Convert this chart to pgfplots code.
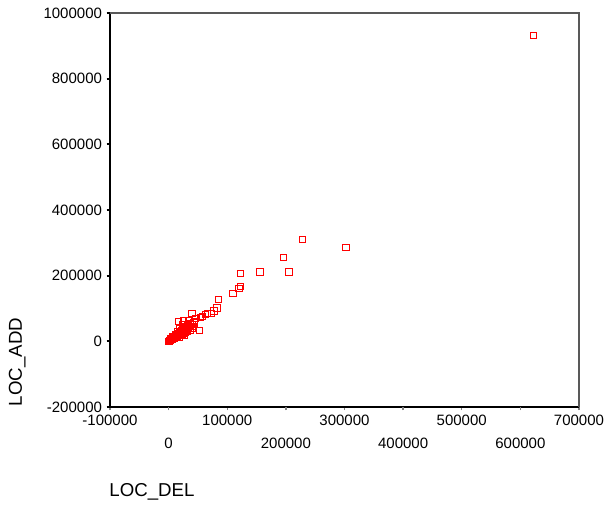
\documentclass[border=0pt]{standalone}
\usepackage{fontspec}
\setmainfont{Liberation Sans}
\usepackage{pgfplots}
\pgfplotsset{compat=1.18}
\begin{document}
\begin{tikzpicture}
\begin{axis}[
  at={(82.5pt,72.75pt)}, anchor=south west,
  scale only axis, width=351.75pt, height=295.5pt,
  xmin=-100000, xmax=700000, ymin=-200000, ymax=1000000,
  axis x line*=bottom, axis y line*=left,
  axis line style={black, line width=1.5pt, -},
  xtick={-100000,100000,300000,500000,700000},
  extra x ticks={0,200000,400000,600000},
  extra x tick style={tick label style={yshift=-17.25pt}},
  ytick={-200000,0,200000,400000,600000,800000,1000000},
  scaled ticks=false,
  tick align=outside,
  major tick length=2.5pt,
  x tick style={gray, line width=1pt},
  y tick style={black, line width=1.5pt},
  tick label style={font=\fontsize{11.25}{13}\selectfont,
    /pgf/number format/fixed, /pgf/number format/1000 sep={},
    /pgf/number format/assume math mode=true},
  xlabel={LOC\_DEL}, ylabel={LOC\_ADD},
  label style={font=\fontsize{14}{16}\selectfont},
  xlabel style={at={(axis description cs:0.0896,-0.216)}, anchor=center},
  ylabel style={at={(axis description cs:-0.198,0.114)}, anchor=center},
  clip=false,
]
\addplot[only marks, mark=square, mark size=2.3pt, red, mark options={line width=0.75pt}] coordinates {
(623000,931500)
(228700,311400) (302600,287000) (196200,256600)
(122900,207000) (155800,211000) (205300,211000)
(122900,167500) (120000,160400) (109700,147000)
(84800,126900) (82400,101400) (77300,92200) (73400,84300)
(66000,84300) (57500,76100) (54600,72100) (63100,81300)
(39800,85200) (53400,33500) (16500,60900) (26100,63900)
(37500,53900) (40400,38700) (27800,18300) (34600,63900)
(43200,55700) (29000,43500) (46100,69100) (37500,38700)
(0,0) (500,800) (1000,1500) (1500,2500) (2000,1000) (2500,3500)
(3000,4000) (3500,2500) (4000,6000) (5000,5000) (5000,8000)
(6000,7000) (6500,10000) (7000,5000) (8000,11000) (8000,8000)
(9000,13000) (10000,10000) (10000,15000) (11000,13000)
(12000,18000) (12000,11000) (13000,16000) (14000,21000)
(15000,14000) (15000,19000) (16000,24000) (17000,17000)
(18000,26000) (18000,21000) (19000,13000) (20000,29000)
(20000,22000) (21000,18000) (22000,33000) (23000,26000)
(24000,20000) (25000,36000) (25000,30000) (26000,23000)
(27000,40000) (28000,33000) (29000,27000) (30000,45000)
(31000,36000) (32000,30000) (33000,48000) (34000,40000)
(36000,44000) (38000,34000) (40000,50000) (42000,46000)
(44000,60000) (23000,52000) (19000,40000) (3000,9000) (7000,14000)
(11000,22000) (15000,30000) (24000,42000) (28000,50000)
};
\draw[gray!70!black, line width=1pt] (rel axis cs:0,1) -- (rel axis cs:1,1) -- (rel axis cs:1,0);
\end{axis}
\pgfresetboundingbox
\useasboundingbox (0,0) rectangle (453.75pt,378pt);
\end{tikzpicture}
\end{document}
